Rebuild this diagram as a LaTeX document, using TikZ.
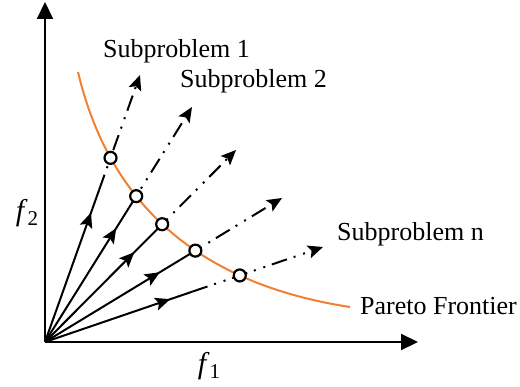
\documentclass[tikz,border=0pt]{standalone}
\usepackage{fontspec}
\setmainfont{Liberation Serif}
\usetikzlibrary{arrows.meta, decorations.markings, calc, intersections, positioning}
\definecolor{paretoorange}{RGB}{240,128,50}

\begin{document}
\begin{tikzpicture}[x=1pt, y=1pt,
    axis/.style={line width=2.2pt, -{Triangle[length=17pt, width=16pt]}},
    ray/.style={line width=2pt, postaction={decorate},
      decoration={markings, mark=at position 0.85 with {\arrow{Stealth[length=15pt, width=13pt, inset=3pt]}}}},
    dashray/.style={line width=2pt, dash pattern=on 16pt off 7pt on 2pt off 8pt on 2pt off 7pt,
      -{Stealth[length=15pt, width=13pt, inset=3pt]}},
    paretopt/.style={circle, draw, fill=white, line width=2.2pt, minimum size=12pt, inner sep=0pt},
    lbl/.style={inner sep=0pt, anchor=base west, font=\fontsize{26}{30}\selectfont}]
      \useasboundingbox (0,0) rectangle (520,386);

      % Axes
      \coordinate (O) at (45,44);
      \coordinate (ytop) at (45,384);
      \coordinate (xend) at (418,44);
      \draw[axis] (O) -- (ytop);
      \draw[axis] (O) -- (xend);
      \node[font=\fontsize{30}{34}\selectfont] (f2) at (27,173) {\textit{f}\raisebox{-5pt}{\fontsize{21}{24}\selectfont 2}};
      \node[font=\fontsize{30}{34}\selectfont] (f1) at (209,20) {\textit{f}\raisebox{-5pt}{\fontsize{21}{24}\selectfont 1}};

      % Pareto front
      \coordinate (pstart) at (78,314);
      \coordinate (pend) at (350,79);
      \draw[paretoorange, line width=2pt, name path=front] (pstart) .. controls (105,200) and (180,105) .. (pend);

      % Search directions: tip offset / solid fraction
      \foreach \i/\tx/\ty/\s in {1/95/267/0.57, 2/147/235/0.57, 3/191/192/0.55, 4/237/144/0.57, 5/278/95/0.53} {
        \coordinate (t\i) at ($(O)+(\tx,\ty)$);
        \coordinate (s\i) at ($(O)!\s!(t\i)$);
        \path[name path=dir\i] (O) -- (t\i);
        \path[name intersections={of=front and dir\i, by=c\i}];
        \draw[ray] (O) -- (s\i);
        \draw[dashray] (s\i) -- (t\i);
        \node[paretopt] (p\i) at (c\i) {};
      }

      % Labels
      \node[lbl] (sub1) at (103,328) {Subproblem 1};
      \node[lbl] (sub2) at (180,298) {Subproblem 2};
      \node[lbl] (subn) at (337,145) {Subproblem n};
      \node[lbl] (front) at (360,71) {Pareto Frontier};
\end{tikzpicture}
\end{document}
